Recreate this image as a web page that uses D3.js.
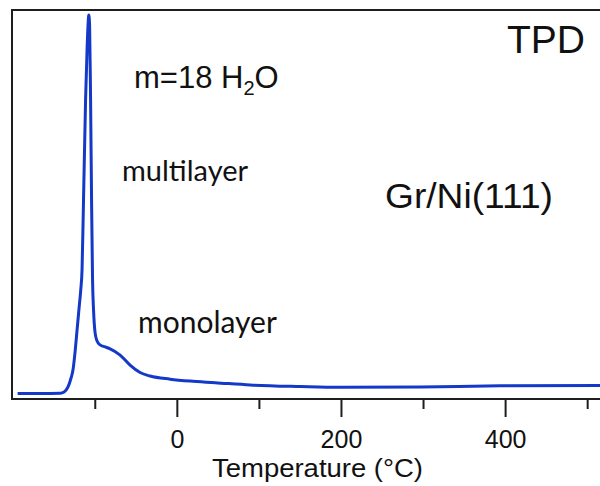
<!DOCTYPE html>
<html>
<head>
<meta charset="utf-8">
<script src="https://cdn.jsdelivr.net/npm/d3@7"></script>
<style>
  html, body { margin: 0; padding: 0; background: #fff; }
  svg { display: block; }
  .arial { font-family: "Liberation Sans", Arial, Helvetica, sans-serif; }
  .hum { font-family: "Lato", "Open Sans", sans-serif; }
</style>
</head>
<body>
<svg id="chart" width="600" height="486"></svg>
<script>
// Temperature (°C) and TPD intensity (arb. units, 0-100)
const temperature = [-194, -167, -142, -137.4, -132.6, -128.9, -126.5, -124, -121.6, -119.1, -117.1, -115.5, -113.7, -111.2, -109.4, -108.2, -107.3, -106.3, -105.1, -103.9, -102.7, -101.5, -99.6, -97.2, -93.5, -87.4, -81.3, -69.1, -57, -44.8, -32.6, -8.2, 16.2, 46.7, 89.4, 150.4, 199.1, 296.7, 394.3, 516];
const intensity   = [1.4, 1.4, 1.5, 1.8, 3.1, 5.4, 7.5, 12.1, 17.7, 23.4, 28, 33.2, 51.2, 76.9, 89.7, 96.1, 98.7, 96.1, 76.9, 51.2, 30.6, 22.9, 17, 14.9, 13.9, 13.4, 12.9, 11.3, 8.7, 6.8, 5.9, 5.1, 4.6, 4.2, 3.6, 3.2, 3.0, 3.1, 3.4, 3.5];
const majorTicks = [0, 200, 400];
const minorTicks = [-100, 100, 300, 500];
const xLabel = "Temperature (°C)";

const svg = d3.select("#chart");
const x = d3.scaleLinear().domain([-200, 516]).range([12.7, 600.3]);
const y = d3.scaleLinear().domain([0, 100]).range([399, 10]);

const frame = "#1e1e1e";
svg.append("line").attr("x1", 12).attr("x2", 600).attr("y1", 10).attr("y2", 10)
  .attr("stroke", frame).attr("stroke-width", 2);
svg.append("line").attr("x1", 12).attr("x2", 12).attr("y1", 9).attr("y2", 400)
  .attr("stroke", frame).attr("stroke-width", 2);

const axMajor = svg.append("g").attr("transform", "translate(0,399)")
  .call(d3.axisBottom(x).tickValues(majorTicks).tickSize(18).tickPadding(13).tickFormat(d3.format("d")));
axMajor.attr("font-family", null).attr("font-size", null);
axMajor.select(".domain").attr("d", "M12,0H600").attr("stroke", frame).attr("stroke-width", 2);
axMajor.selectAll(".tick line").attr("stroke", frame).attr("stroke-width", 2);
axMajor.selectAll(".tick text").attr("class", "arial")
  .style("font-size", "25px").attr("fill", "#111");

const axMinor = svg.append("g").attr("transform", "translate(0,399)")
  .call(d3.axisBottom(x).tickValues(minorTicks).tickSize(10).tickFormat(""));
axMinor.select(".domain").remove();
axMinor.selectAll(".tick line").attr("stroke", frame).attr("stroke-width", 2);

svg.append("text").attr("class", "arial").attr("x", 212).attr("y", 477)
  .attr("textLength", 211).attr("lengthAdjust", "spacingAndGlyphs")
  .style("font-size", "26px").attr("fill", "#111").text(xLabel);

const pts = temperature.map((t, i) => [t, intensity[i]]);
svg.append("path").datum(pts)
  .attr("fill", "none").attr("stroke", "#1438c8").attr("stroke-width", 3)
  .attr("stroke-linejoin", "round")
  .attr("d", d3.line().x(d => x(d[0])).y(d => y(d[1])).curve(d3.curveMonotoneX));

svg.append("text").attr("class", "arial").attr("x", 507).attr("y", 53)
  .style("font-size", "39px").attr("fill", "#111").text("TPD");
svg.append("text").attr("class", "arial").attr("x", 385).attr("y", 208)
  .attr("textLength", 168).attr("lengthAdjust", "spacingAndGlyphs")
  .style("font-size", "35px").attr("fill", "#111").text("Gr/Ni(111)");

const m = svg.append("text").attr("class", "arial").attr("x", 134).attr("y", 88)
  .style("font-size", "31px").attr("fill", "#111");
m.append("tspan").text("m=18 H");
m.append("tspan").style("font-size", "20px").attr("dy", 7).text("2");
m.append("tspan").attr("dy", -7).text("O");

svg.append("text").attr("class", "hum").attr("x", 122).attr("y", 181)
  .style("font-size", "29px").attr("fill", "#111").text("multilayer");
svg.append("text").attr("class", "hum").attr("x", 138).attr("y", 333)
  .style("font-size", "30px").attr("fill", "#111").text("monolayer");
</script>
</body>
</html>
